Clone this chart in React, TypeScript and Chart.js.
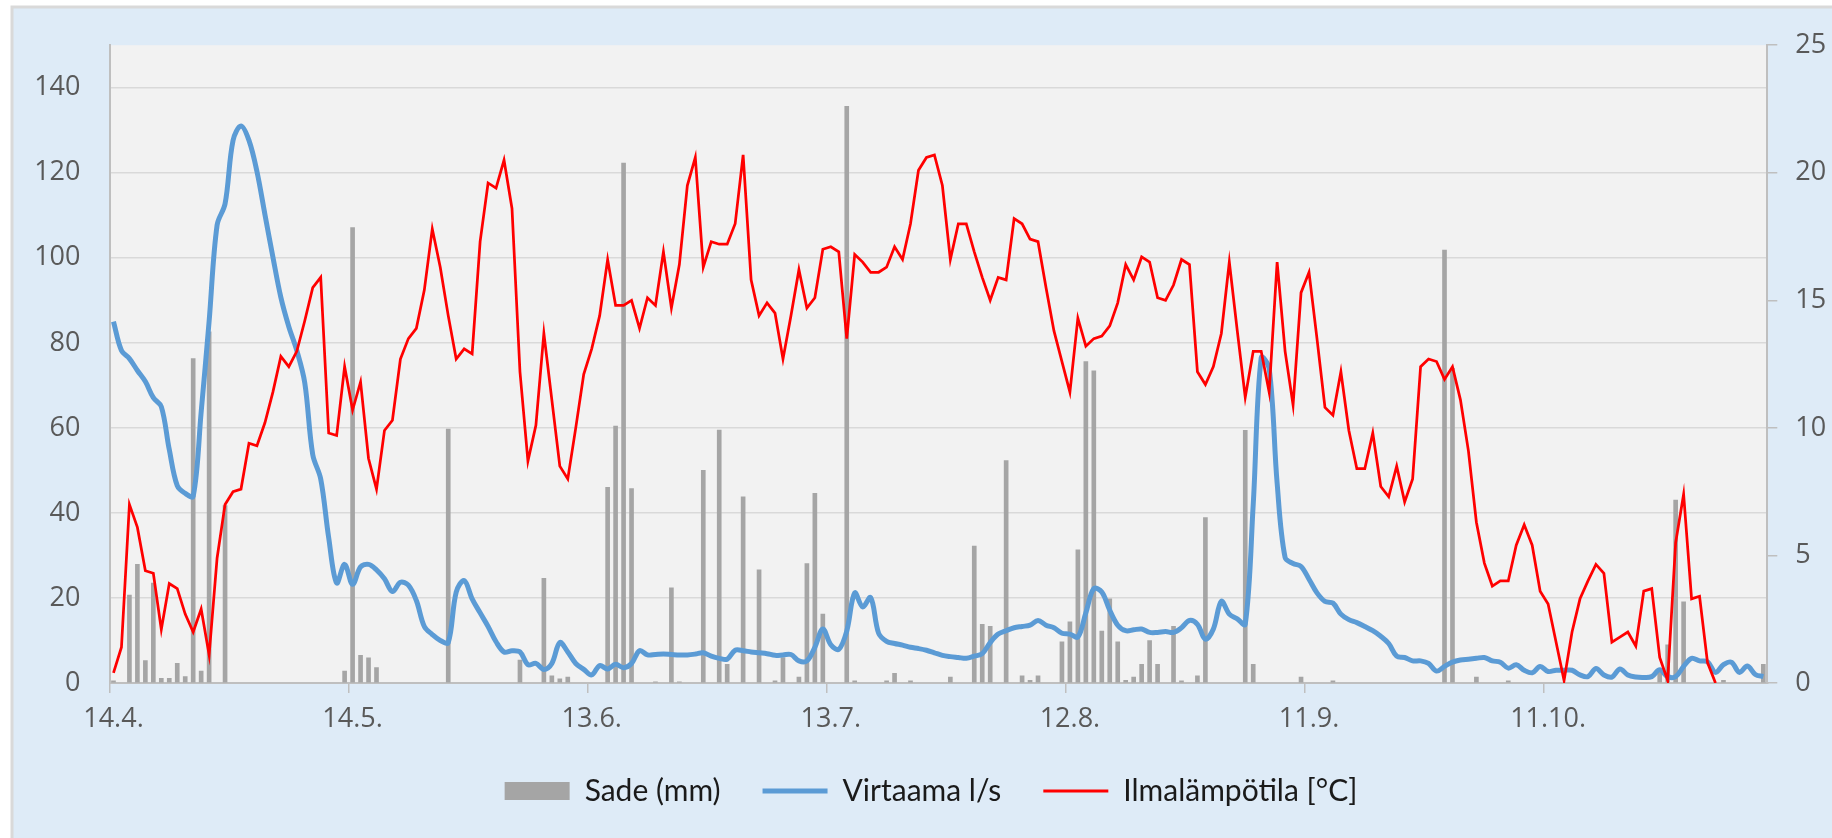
import React, { useEffect, useRef } from 'react';
import { Chart, registerables } from 'chart.js';

Chart.register(...registerables);

// ---- data ----
const DAY_COUNT = 208; // 14.4. .. 7.11.
const START_YEAR = 2019;
const START_MONTH = 3; // April (0-based)
const START_DAY = 14;

const CATEGORIES: string[] = Array.from({ length: DAY_COUNT }, (_, i) => {
  const d = new Date(START_YEAR, START_MONTH, START_DAY + i);
  return `${d.getDate()}.${d.getMonth() + 1}.`;
});
const LABEL_EVERY = 30; // 14.4., 14.5., 13.6., 13.7., 12.8., 11.9., 11.10.

// Sade (mm): day index and amount
const RAIN_DAY = [0, 2, 3, 4, 5, 6, 7, 8, 9, 10, 11, 12, 14, 29, 30, 31, 32, 33, 42, 51, 54, 55, 56, 57, 62, 63, 64, 65, 68, 70, 71, 74, 76, 77, 79, 81, 83, 84, 86, 87, 88, 89, 92, 93, 97, 98, 100, 105, 108, 109, 110, 112, 114, 115, 116, 119, 120, 121, 122, 123, 124, 125, 126, 127, 128, 129, 130, 131, 133, 134, 136, 137, 142, 143, 149, 153, 167, 168, 171, 175, 194, 195, 196, 197, 202, 207];
const RAIN_MM = [0.5, 20.7, 27.9, 5.3, 23.5, 1.1, 1.1, 4.6, 1.5, 76.3, 2.8, 82.6, 41.7, 2.8, 107.1, 6.5, 5.9, 3.6, 59.7, 5.4, 24.6, 1.7, 1.0, 1.4, 46.0, 60.4, 122.3, 45.7, 0.3, 22.4, 0.3, 50.0, 59.5, 4.4, 43.8, 26.6, 0.5, 6.0, 1.4, 28.1, 44.6, 16.2, 135.6, 0.5, 0.5, 2.3, 0.5, 1.4, 32.2, 13.8, 13.3, 52.3, 1.7, 0.6, 1.7, 9.7, 14.4, 31.3, 75.6, 73.4, 12.2, 19.8, 9.7, 0.6, 1.4, 4.4, 10.0, 4.4, 13.3, 0.5, 1.7, 38.9, 59.4, 4.4, 1.4, 0.5, 101.8, 74.0, 1.4, 0.5, 3.4, 9.0, 43.0, 19.1, 0.6, 4.4];

// Virtaama l/s (left axis)
const FLOW = [
  85, 78.2, 76.3, 73.5, 70.9, 67.1, 65.0, 54.9, 46.4, 44.6,
  43.9, 63.7, 85.1, 107.7, 112.7, 127.6, 131.0, 127.6, 120.3, 110.2,
  100.2, 90.7, 83.8, 78.2, 70.6, 53.7, 48.0, 34.2, 23.5, 27.9,
  23.2, 27.3, 27.9, 26.6, 24.5, 21.5, 23.7, 23.0, 19.4, 13.3,
  11.4, 10.0, 9.5, 21.4, 24.1, 19.8, 16.5, 13.3, 9.7, 7.3,
  7.6, 7.3, 4.3, 4.6, 3.2, 4.6, 9.5, 7.3, 4.6, 3.2,
  1.9, 4.1, 3.3, 4.4, 3.6, 4.6, 7.6, 6.6, 6.7, 6.8,
  6.7, 6.6, 6.6, 6.8, 7.1, 6.3, 5.8, 5.6, 7.7, 7.6,
  7.3, 7.1, 6.9, 6.5, 6.6, 6.7, 5.2, 5.2, 8.4, 12.7,
  9.0, 7.9, 12.2, 21.2, 17.9, 20.1, 11.7, 9.8, 9.3, 8.9,
  8.4, 8.1, 7.7, 7.1, 6.5, 6.2, 6.0, 5.8, 6.3, 6.9,
  9.5, 11.5, 12.3, 13.0, 13.3, 13.6, 14.7, 13.6, 13.0, 11.7,
  11.5, 10.8, 16.5, 22.2, 21.4, 17.1, 13.6, 12.3, 12.5, 12.7,
  11.9, 11.9, 12.1, 11.9, 13.0, 14.7, 13.8, 10.3, 12.7, 19.2,
  16.2, 15.1, 13.8, 42.0, 76.5, 74.0, 47.0, 29.5, 28.1, 27.4,
  24.4, 21.2, 19.2, 18.8, 16.2, 14.9, 14.2, 13.3, 12.3, 11.0,
  9.3, 6.3, 6.0, 5.2, 5.2, 4.6, 2.8, 3.9, 4.9, 5.4,
  5.6, 5.8, 6.0, 5.2, 4.9, 3.5, 4.3, 3.0, 2.4, 3.9,
  2.7, 3.0, 3.0, 3.0, 1.9, 1.5, 3.4, 1.9, 1.4, 3.3,
  1.9, 1.4, 1.3, 1.5, 3.1, 1.5, 1.5, 3.9, 5.8, 5.2,
  5.0, 2.5, 4.3, 4.9, 2.5, 4.0, 2.0, 1.5,
];

// Ilmalämpötila [°C] (right axis)
const TEMP: (number | null)[] = [
  0.4, 1.4, 7.0, 6.1, 4.4, 4.3, 2.1, 3.9, 3.7, 2.7,
  2.0, 2.9, 1.1, 4.9, 7.0, 7.5, 7.6, 9.4, 9.3, 10.2,
  11.4, 12.8, 12.4, 13.0, 14.2, 15.5, 15.9, 9.8, 9.7, 12.4,
  10.7, 11.8, 8.8, 7.6, 9.9, 10.3, 12.7, 13.5, 13.9, 15.4,
  17.8, 16.3, 14.4, 12.7, 13.1, 12.9, 17.3, 19.6, 19.4, 20.5,
  18.6, 12.2, 8.7, 10.1, 13.7, 11.1, 8.5, 8.0, 10.0, 12.1,
  13.1, 14.4, 16.6, 14.8, 14.8, 15.0, 13.9, 15.1, 14.8, 16.9,
  14.7, 16.4, 19.5, 20.6, 16.3, 17.3, 17.2, 17.2, 18.0, 20.7,
  15.8, 14.4, 14.9, 14.5, 12.7, 14.4, 16.2, 14.7, 15.1, 17.0,
  17.1, 16.9, 13.5, 16.8, 16.5, 16.1, 16.1, 16.3, 17.1, 16.6,
  18.0, 20.1, 20.6, 20.7, 19.5, 16.6, 18.0, 18.0, 16.9, 15.9,
  15.0, 15.9, 15.8, 18.2, 18.0, 17.4, 17.3, 15.5, 13.8, 12.6,
  11.4, 14.3, 13.2, 13.5, 13.6, 14.0, 14.9, 16.4, 15.8, 16.7,
  16.5, 15.1, 15.0, 15.6, 16.6, 16.4, 12.2, 11.7, 12.4, 13.7,
  16.5, 13.8, 11.2, 13.0, 13.0, 11.4, 16.5, 13.0, 10.9, 15.3,
  16.1, 13.5, 10.8, 10.5, 12.2, 9.9, 8.4, 8.4, 9.8, 7.7,
  7.3, 8.5, 7.1, 8.0, 12.4, 12.7, 12.6, 11.9, 12.4, 11.1,
  9.1, 6.3, 4.7, 3.8, 4.0, 4.0, 5.4, 6.2, 5.4, 3.6,
  3.1, 1.6, 0.1, 2.0, 3.3, 4.0, 4.65, 4.3, 1.6, 1.8,
  2.0, 1.45, 3.6, 3.7, 1.0, 0.1, 5.5, 7.4, 3.3, 3.4,
  0.8, 0.0, null, null, null, null, null, null,
];

const LEFT_MAX = 150;
const LEFT_STEP = 20;
const RIGHT_MAX = 25;
const RIGHT_STEP = 5;

const SERIES_NAMES = ['Sade (mm)', 'Virtaama l/s', 'Ilmalämpötila [°C]'];

const RAIN: (number | null)[] = CATEGORIES.map(() => null);
RAIN_DAY.forEach((d, k) => {
  RAIN[d] = RAIN_MM[k];
});

const TICK_FONT = { family: "'Open Sans', 'DejaVu Sans', sans-serif", size: 27 };
const TICK_COLOR = '#595959';
const AXIS_COLOR = '#BFBFBF';
const GRID_COLOR = '#D9D9D9';
const RAIN_COLOR = '#A5A5A5';
const FLOW_COLOR = '#5B9BD5';
const TEMP_COLOR = '#FF0000';

const framePlugin = {
  id: 'frameBg',
  beforeDraw(chart: any) {
    const { ctx, width, height, chartArea } = chart;
    ctx.save();
    ctx.fillStyle = '#FFFFFF';
    ctx.fillRect(0, 0, width, height);
    ctx.fillStyle = '#D9D9D9';
    ctx.fillRect(10.5, 5.5, width, height);
    ctx.fillStyle = '#DEEBF7';
    ctx.fillRect(13.5, 8.5, width, height);
    ctx.fillStyle = '#F2F2F2';
    ctx.fillRect(
      chartArea.left,
      chartArea.top,
      chartArea.right - chartArea.left,
      chartArea.bottom - chartArea.top
    );
    ctx.restore();
  },
};

export default function App() {
  const canvasRef = useRef<HTMLCanvasElement | null>(null);

  useEffect(() => {
    document.body.style.margin = '0';
    const canvas = canvasRef.current;
    if (!canvas) return;

    const chart = new Chart(canvas, {
      type: 'bar',
      data: {
        labels: CATEGORIES,
        datasets: [
          {
            type: 'bar',
            label: SERIES_NAMES[0],
            data: RAIN,
            backgroundColor: RAIN_COLOR,
            borderWidth: 0,
            barThickness: 4,
            yAxisID: 'y',
            order: 3,
          } as any,
          {
            type: 'line',
            label: SERIES_NAMES[1],
            data: FLOW,
            borderColor: FLOW_COLOR,
            backgroundColor: FLOW_COLOR,
            borderWidth: 5,
            pointRadius: 0,
            tension: 0.35,
            fill: false,
            yAxisID: 'y',
            order: 2,
          },
          {
            type: 'line',
            label: SERIES_NAMES[2],
            data: TEMP,
            borderColor: TEMP_COLOR,
            backgroundColor: TEMP_COLOR,
            borderWidth: 2.75,
            pointRadius: 0,
            tension: 0,
            fill: false,
            spanGaps: false,
            yAxisID: 'y1',
            order: 1,
          },
        ],
      },
      options: {
        responsive: false,
        animation: false,
        devicePixelRatio: 1,
        events: [],
        layout: { padding: { top: 45, left: 30, right: 0, bottom: 22 } },
        plugins: {
          tooltip: { enabled: false },
          title: { display: false },
          legend: {
            display: true,
            position: 'bottom',
            labels: {
              usePointStyle: true,
              pointStyleWidth: 65,
              boxHeight: 18,
              padding: 42,
              color: '#1A1A1A',
              font: { family: "Lato, 'Liberation Sans', sans-serif", size: 30 },
              sort: (a: any, b: any) => a.datasetIndex - b.datasetIndex,
              generateLabels: (ch: any) => {
                const items = Chart.defaults.plugins.legend.labels.generateLabels(ch);
                items.forEach((it: any) => {
                  if (it.datasetIndex === 0) {
                    it.pointStyle = 'rect';
                    it.fillStyle = RAIN_COLOR;
                    it.strokeStyle = RAIN_COLOR;
                    it.lineWidth = 0;
                  } else if (it.datasetIndex === 1) {
                    it.pointStyle = 'line';
                    it.strokeStyle = FLOW_COLOR;
                    it.lineWidth = 5;
                  } else {
                    it.pointStyle = 'line';
                    it.strokeStyle = TEMP_COLOR;
                    it.lineWidth = 3;
                  }
                });
                return items;
              },
            },
          },
        },
        scales: {
          x: {
            type: 'category',
            offset: true,
            grid: {
              offset: true,
              drawOnChartArea: false,
              drawTicks: true,
              tickLength: 10,
              lineWidth: 1.5,
              color: (ctx: any) => (ctx.index % LABEL_EVERY === 0 ? AXIS_COLOR : 'rgba(0,0,0,0)'),
            },
            border: { display: true, color: AXIS_COLOR, width: 2 },
            ticks: {
              autoSkip: false,
              maxRotation: 0,
              minRotation: 0,
              padding: 10,
              color: TICK_COLOR,
              font: TICK_FONT,
              callback: (_v: any, index: number) =>
                index % LABEL_EVERY === 0 ? CATEGORIES[index] : '',
            },
            afterFit: (s: any) => {
              s.height = 51;
            },
          },
          y: {
            type: 'linear',
            position: 'left',
            min: 0,
            max: LEFT_MAX,
            grid: {
              drawTicks: false,
              color: GRID_COLOR,
              lineWidth: 1.5,
            },
            border: { display: true, color: AXIS_COLOR, width: 2 },
            ticks: {
              stepSize: LEFT_STEP,
              includeBounds: false,
              padding: 29,
              color: TICK_COLOR,
              font: TICK_FONT,
            },
            afterFit: (s: any) => {
              s.width = 79.5;
            },
          },
          y1: {
            type: 'linear',
            position: 'right',
            min: 0,
            max: RIGHT_MAX,
            grid: {
              drawOnChartArea: false,
              drawTicks: true,
              tickLength: 10,
              color: AXIS_COLOR,
              lineWidth: 1.5,
            },
            border: { display: true, color: AXIS_COLOR, width: 2 },
            ticks: {
              stepSize: RIGHT_STEP,
              padding: 18,
              color: TICK_COLOR,
              font: TICK_FONT,
            },
            afterFit: (s: any) => {
              s.width = 64.7;
            },
          },
        },
      },
      plugins: [framePlugin],
    });

    return () => {
      chart.destroy();
    };
  }, []);

  return (
    <div style={{ width: 1832, height: 838 }}>
      <canvas ref={canvasRef} width={1832} height={838} style={{ display: 'block' }} />
    </div>
  );
}
